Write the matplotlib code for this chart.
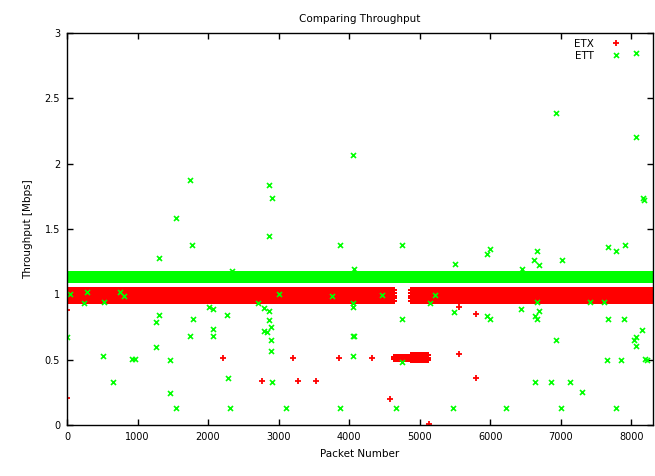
import numpy as np
import matplotlib
matplotlib.use("Agg")
import matplotlib.pyplot as plt

# dense bands (packet ranges and the throughput levels they sit on)
ETX_BAND_SEGMENTS = [(0, 4640), (4880, 8300)]
ETX_BAND_LEVELS = [0.95, 0.97, 0.99, 1.01, 1.035]
ETX_TOP_SEGMENTS = [(0, 4640), (4880, 8300)]
ETX_TOP_LEVELS = [1.098]
ETX_LOW_SEGMENTS = [(4640, 4880), (4880, 5120)]
ETX_LOW_LEVELS = [[0.505, 0.52], [0.495, 0.515, 0.535]]
ETT_BAND_SEGMENTS = [(0, 8300)]
ETT_BAND_LEVELS = [1.12, 1.135, 1.15, 1.157]

# scattered ETX outliers
etx_x = [0, 0, 2207, 3202, 3864, 2770, 3281, 3533, 4324, 5557, 5557, 5805,
         5805, 4584, 5128]
etx_y = [0.21, 0.88, 0.514, 0.51, 0.51, 0.34, 0.34, 0.34, 0.514, 0.54,
         0.90, 0.85, 0.36, 0.20, 0.01]

# scattered ETT outliers
ett_x = [1544, 1775, 1298, 2869, 3874, 4066, 2335, 48, 290, 749, 810, 241,
         525, 3003, 3755, 2713, 4062, 2013, 2074, 1298, 1269, 2264, 1781,
         2794, 2865, 2865, 2794, 2831, 2888, 2888, 2888, 1743, 2074, 2074,
         4062, 4062, 4062, 1260, 511, 915, 962, 1459, 653, 2287, 2908, 1459,
         1540, 2311, 3107, 3874, 0,
         4752, 5957, 5994, 5497, 6454, 6658, 6629, 6690, 7013, 7670, 7790,
         7908, 4466, 5213, 5152, 5483, 4750, 5957, 6004, 6440, 6658, 6690,
         6643, 6658, 7415, 7614, 7670, 7898, 4072, 4750, 6927, 8149, 8064,
         8040, 8064, 7662, 7861, 8196, 8230, 6643, 6857, 7131, 7297, 4669,
         5469, 6232, 7008, 7790,
         1743, 2869, 2908, 4062, 8064, 6941, 8064, 8163, 8183]
ett_y = [1.58, 1.375, 1.275, 1.445, 1.375, 1.19, 1.18, 1.0, 1.015, 1.015,
         0.99, 0.93, 0.945, 1.0, 0.99, 0.93, 0.93, 0.90, 0.89, 0.843, 0.787,
         0.843, 0.815, 0.894, 0.876, 0.805, 0.723, 0.71, 0.748, 0.647, 0.57,
         0.685, 0.736, 0.685, 0.685, 0.90, 0.532, 0.595, 0.532, 0.507, 0.507,
         0.501, 0.33, 0.358, 0.333, 0.243, 0.131, 0.131, 0.131, 0.131, 0.672,
         1.375, 1.305, 1.348, 1.233, 1.19, 1.33, 1.264, 1.228, 1.259, 1.36,
         1.33, 1.379, 0.996, 0.996, 0.932, 0.867, 0.813, 0.838, 0.813, 0.89,
         0.945, 0.876, 0.838, 0.813, 0.945, 0.945, 0.813, 0.813, 0.685,
         0.486, 0.647, 0.729, 0.672, 0.647, 0.608, 0.501, 0.501, 0.506,
         0.499, 0.328, 0.333, 0.328, 0.251, 0.131, 0.131, 0.131, 0.131,
         0.131,
         1.876, 1.833, 1.738, 2.062, 2.848, 2.386, 2.202, 1.738, 1.718]

x_ticks = [0, 1000, 2000, 3000, 4000, 5000, 6000, 7000, 8000]
y_ticks = [0, 0.5, 1, 1.5, 2, 2.5, 3]
y_tick_labels = ["0", "0.5", "1", "1.5", "2", "2.5", "3"]


def expand(segments, levels_per_segment):
    xs, ys = [], []
    for (a, b), levels in zip(segments, levels_per_segment):
        pkts = np.arange(a, b + 1)
        for lv in levels:
            xs.append(pkts)
            ys.append(np.full(len(pkts), lv))
    return np.concatenate(xs), np.concatenate(ys)


fig = plt.figure(figsize=(6.55, 4.76), dpi=100)
ax = fig.add_axes([0.1023, 0.107, 0.8947, 0.824])

red = "#ff0000"
green = "#00ff00"
pk_red = dict(linestyle="none", marker="+", color=red, ms=5, mew=1.3)
pk_green = dict(linestyle="none", marker="x", color=green, ms=3.6, mew=1.2)

# ETX first, ETT drawn on top
bx, by = expand(ETX_TOP_SEGMENTS, [ETX_TOP_LEVELS] * len(ETX_TOP_SEGMENTS))
ax.plot(bx, by, linestyle="none", marker="_", color=red, ms=4, mew=1.2)
bx, by = expand(ETX_BAND_SEGMENTS, [ETX_BAND_LEVELS] * len(ETX_BAND_SEGMENTS))
ax.plot(bx, by, **pk_red)
bx, by = expand(ETX_LOW_SEGMENTS, ETX_LOW_LEVELS)
ax.plot(bx, by, **pk_red)
ax.plot(etx_x, etx_y, label="ETX", **pk_red)

bx, by = expand(ETT_BAND_SEGMENTS, [ETT_BAND_LEVELS])
ax.plot(bx, by, **pk_green)
ax.plot(ett_x, ett_y, label="ETT", **pk_green)

ax.set_xlim(0, 8310)
ax.set_ylim(0, 3)
ax.set_xticks(x_ticks)
ax.set_yticks(y_ticks)
ax.set_yticklabels(y_tick_labels)
ax.tick_params(direction="in", top=True, right=True, length=4, width=1,
               labelsize=7, pad=5)
for s in ax.spines.values():
    s.set_linewidth(1)

ax.set_title("Comparing Throughput", fontsize=7.5, pad=8)
ax.set_xlabel("Packet Number", fontsize=7.5, labelpad=5)
ax.set_ylabel("Throughput [Mbps]", fontsize=7.5, labelpad=8)

ax.legend(loc="upper right", bbox_to_anchor=(0.955, 0.995), frameon=False,
          markerfirst=False, fontsize=7.5, handletextpad=1.5,
          labelspacing=0.15, borderaxespad=0, handlelength=1.2)

fig.savefig("out.png", dpi=100)
